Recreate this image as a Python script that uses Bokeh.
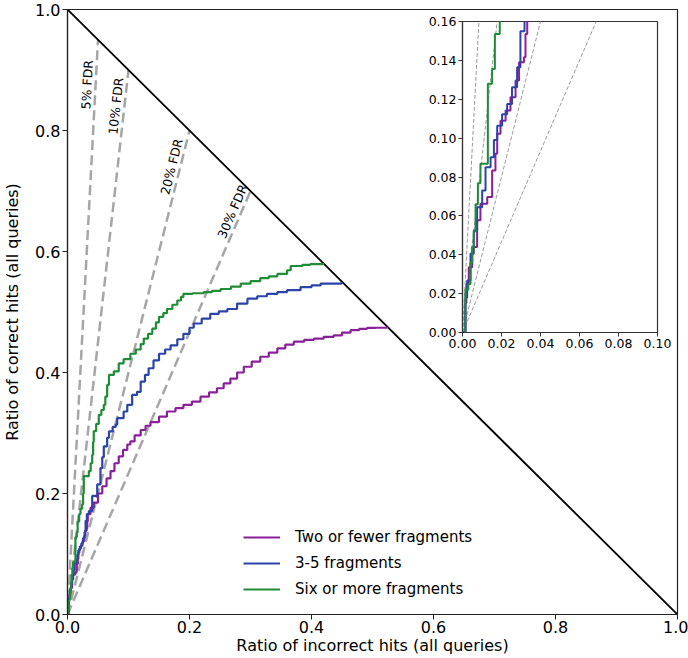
import math
from bokeh.plotting import figure
from bokeh.layouts import column
from bokeh.models import FixedTicker, NumeralTickFormatter, Range1d, ColumnDataSource
from bokeh.core.properties import value
from bokeh.embed import file_html
from bokeh.resources import INLINE

FONT = "DejaVu Sans"

# ---------------- data ----------------
series_names = ["Two or fewer fragments", "3-5 fragments", "Six or more fragments"]
series_colors = ["#8a1f9a", "#2a44a8", "#1f8c36"]

two_x = [0.0, 0.0015, 0.0020, 0.0032, 0.0050, 0.0075, 0.0092, 0.0127, 0.0152, 0.0169,
         0.0178, 0.0195, 0.0221, 0.0246, 0.0272, 0.0290, 0.0315, 0.0323, 0.0332,
         0.0377, 0.043, 0.050, 0.057, 0.064, 0.0705, 0.077, 0.084, 0.091, 0.098,
         0.103, 0.110, 0.120, 0.128, 0.136, 0.150, 0.163, 0.177, 0.190, 0.204,
         0.218, 0.232, 0.245, 0.256, 0.267, 0.278, 0.289, 0.302, 0.316, 0.330,
         0.344, 0.357, 0.371, 0.388, 0.404, 0.420, 0.4365, 0.450, 0.464, 0.478,
         0.491, 0.505, 0.524]
two_y = [0.0, 0.015, 0.025, 0.0336, 0.044, 0.0577, 0.0663, 0.0697, 0.0834, 0.0919,
         0.1022, 0.109, 0.1142, 0.121, 0.1296, 0.139, 0.1416, 0.1536, 0.166,
         0.1765, 0.185, 0.200, 0.212, 0.225, 0.237, 0.250, 0.2615, 0.272, 0.281,
         0.286, 0.296, 0.305, 0.312, 0.318, 0.327, 0.3355, 0.341, 0.3465, 0.352,
         0.360, 0.367, 0.374, 0.382, 0.390, 0.400, 0.4095, 0.418, 0.426, 0.433,
         0.440, 0.446, 0.451, 0.454, 0.456, 0.459, 0.4615, 0.466, 0.470, 0.472,
         0.4737, 0.474, 0.476]

mid_x = [0.0, 0.0015, 0.0024, 0.0041, 0.0058, 0.0075, 0.0101, 0.0118, 0.0144, 0.0161,
         0.0178, 0.0203, 0.0229, 0.0254, 0.0280, 0.0297, 0.0318,
         0.035, 0.0405, 0.0487, 0.054, 0.057, 0.0595, 0.065, 0.068, 0.074, 0.079,
         0.0815, 0.092, 0.098, 0.106, 0.114, 0.120, 0.127, 0.133, 0.141, 0.150,
         0.160, 0.169, 0.180, 0.190, 0.200, 0.207, 0.220, 0.234, 0.248, 0.262,
         0.278, 0.295, 0.311, 0.327, 0.344, 0.360, 0.382, 0.400, 0.415, 0.449]
mid_y = [0.0, 0.018, 0.0268, 0.0405, 0.0525, 0.0645, 0.0730, 0.085, 0.0902, 0.099,
         0.1064, 0.1123, 0.1176, 0.1262, 0.1365, 0.155, 0.166,
         0.171, 0.196, 0.215, 0.242, 0.260, 0.278, 0.292, 0.3026, 0.310, 0.314,
         0.3245, 0.3355, 0.3465, 0.363, 0.368, 0.385, 0.396, 0.407, 0.420, 0.431,
         0.438, 0.445, 0.455, 0.464, 0.474, 0.481, 0.489, 0.497, 0.501, 0.505,
         0.514, 0.522, 0.526, 0.530, 0.533, 0.536, 0.541, 0.544, 0.547, 0.549]

six_x = [0.0, 0.0015, 0.0030, 0.0041, 0.0050, 0.0058, 0.0067, 0.0079, 0.0092, 0.0130,
         0.0152, 0.0166, 0.0191,
         0.0213, 0.024, 0.0255, 0.0267, 0.035, 0.038, 0.0405, 0.042, 0.043, 0.047,
         0.0513, 0.0555, 0.0595, 0.062, 0.065, 0.068, 0.076, 0.084, 0.092, 0.103,
         0.112, 0.120, 0.125, 0.132, 0.139, 0.145, 0.150, 0.157, 0.163, 0.172,
         0.180, 0.186, 0.190, 0.205, 0.2235, 0.237, 0.251, 0.268, 0.284, 0.300,
         0.316, 0.330, 0.344, 0.360, 0.366, 0.385, 0.398, 0.419]
six_y = [0.0, 0.022, 0.025, 0.036, 0.044, 0.052, 0.066, 0.0768, 0.0868, 0.128,
         0.1356, 0.1536, 0.166,
         0.175, 0.182, 0.200, 0.2286, 0.237, 0.250, 0.264, 0.285, 0.303, 0.315,
         0.330, 0.338, 0.3465, 0.360, 0.3795, 0.396, 0.402, 0.415, 0.422, 0.431,
         0.438, 0.447, 0.456, 0.464, 0.4725, 0.483, 0.492, 0.498, 0.505, 0.512,
         0.519, 0.525, 0.530, 0.531, 0.533, 0.535, 0.538, 0.542, 0.547, 0.551,
         0.556, 0.559, 0.563, 0.569, 0.576, 0.578, 0.579, 0.581]

series_x = [two_x, mid_x, six_x]
series_y = [two_y, mid_y, six_y]

fdr_levels = [0.05, 0.10, 0.20, 0.30]
fdr_labels = ["5% FDR", "10% FDR", "20% FDR", "30% FDR"]
total = 1.0  # correct + incorrect can never exceed all queries

main_ticks = [0.0, 0.2, 0.4, 0.6, 0.8, 1.0]
inset_x_ticks = [0.0, 0.02, 0.04, 0.06, 0.08, 0.10]
inset_y_ticks = [0.0, 0.02, 0.04, 0.06, 0.08, 0.10, 0.12, 0.14, 0.16]

# ---------------- layout constants ----------------
W, H = 688, 658
BL, BR, BT, BB = 67, 11, 9, 44
FW, FH = W - BL - BR, H - BT - BB
label_t = [0.921, 0.932, 0.921, 0.944]   # where each FDR label sits along its line
label_gap = 8.5                          # px between a line and its label

# ---------------- main figure ----------------
p = figure(width=W, height=H, x_range=Range1d(0, 1), y_range=Range1d(0, 1),
           output_backend="svg", toolbar_location=None,
           min_border_left=BL, min_border_right=BR, min_border_top=BT, min_border_bottom=BB,
           x_axis_label="Ratio of incorrect hits (all queries)",
           y_axis_label="Ratio of correct hits (all queries)")
p.frame_align = False
p.xgrid.visible = False
p.ygrid.visible = False
p.outline_line_color = "#222222"
p.outline_line_width = 1.2
p.background_fill_color = "white"
p.border_fill_color = "white"

for ax in (p.xaxis[0], p.yaxis[0]):
    ax.ticker = FixedTicker(ticks=main_ticks)
    ax.formatter = NumeralTickFormatter(format="0.0")
    ax.major_tick_out = 5
    ax.major_tick_in = 0
    ax.minor_tick_out = 0
    ax.minor_tick_in = 0
    ax.axis_line_color = "#222222"
    ax.axis_line_width = 1.2
    ax.major_tick_line_color = "#222222"
    ax.major_label_text_font = FONT
    ax.major_label_text_font_size = "16px"
    ax.major_label_text_color = "black"
    ax.axis_label_text_font = FONT
    ax.axis_label_text_font_size = "16px"
    ax.axis_label_text_font_style = "normal"
    ax.axis_label_text_color = "black"
p.xaxis[0].major_label_standoff = 1
p.xaxis[0].axis_label_standoff = 0
p.yaxis[0].major_label_standoff = 2
p.yaxis[0].axis_label_standoff = 10

# FDR guide lines
fdr_src = ColumnDataSource(dict(
    x0=[0.0] * len(fdr_levels), y0=[0.0] * len(fdr_levels),
    x1=[f * total for f in fdr_levels], y1=[(1 - f) * total for f in fdr_levels]))
p.segment(x0="x0", y0="y0", x1="x1", y1="y1", source=fdr_src,
          line_color="#a6a6a6", line_width=2.5, line_dash="10 5")

# FDR labels, rotated along the lines
angles, lx, ly, xo, yo = [], [], [], [], []
for f, t in zip(fdr_levels, label_t):
    a = math.atan2((1 - f) * FH, f * FW)
    angles.append(a)
    lx.append(f * t)
    ly.append((1 - f) * t)
    xo.append(-label_gap * math.sin(a))
    yo.append(-label_gap * math.cos(a))
lab_src = ColumnDataSource(dict(x=lx, y=ly, text=fdr_labels, angle=angles, xo=xo, yo=yo))
p.text(x="x", y="y", text="text", angle="angle", x_offset="xo", y_offset="yo",
       source=lab_src, text_font=value(FONT), text_font_size=value("12.5px"),
       text_align="center", text_baseline="middle", text_color="black")

# diagonal limit line
p.line(x=[0, total], y=[total, 0], line_color="black", line_width=1.8)

for name, col, xs, ys in zip(series_names, series_colors, series_x, series_y):
    p.step(x=xs, y=ys, mode="after", line_color=col, line_width=2.2, legend_label=name)

lg = p.legend[0]
lg.location = (176, 15)
lg.padding = 0
lg.margin = 0
lg.spacing = 6
lg.glyph_width = 37
lg.glyph_height = 20
lg.label_standoff = 15
lg.label_text_font = FONT
lg.label_text_font_size = "15px"
lg.label_text_color = "black"
lg.border_line_alpha = 0
lg.background_fill_alpha = 0

# ---------------- inset figure ----------------
IL, IR, IT, IB = 45, 15, 8, 26
IFW, IFH = 195, 311
ins = figure(width=IL + IFW + IR, height=IT + IFH + IB,
             x_range=Range1d(0, 0.1), y_range=Range1d(0, 0.16),
             output_backend="svg", toolbar_location=None,
             min_border_left=IL, min_border_right=IR, min_border_top=IT, min_border_bottom=IB,
             styles={"position": "absolute", "left": f"{462 - IL}px", "top": f"{21 - IT}px"})
ins.frame_align = False
ins.xgrid.visible = False
ins.ygrid.visible = False
ins.outline_line_color = "#333333"
ins.outline_line_width = 1.2
ins.background_fill_color = "white"
ins.border_fill_color = None
ins.xaxis[0].ticker = FixedTicker(ticks=inset_x_ticks)
ins.yaxis[0].ticker = FixedTicker(ticks=inset_y_ticks)
for ax in (ins.xaxis[0], ins.yaxis[0]):
    ax.formatter = NumeralTickFormatter(format="0.00")
    ax.major_tick_out = 4
    ax.major_tick_in = 0
    ax.minor_tick_out = 0
    ax.minor_tick_in = 0
    ax.axis_line_color = "#333333"
    ax.axis_line_width = 1.2
    ax.major_tick_line_color = "#333333"
    ax.major_label_text_font = FONT
    ax.major_label_text_font_size = "12.5px"
    ax.major_label_text_color = "black"
    ax.major_label_standoff = 2

ins.segment(x0="x0", y0="y0", x1="x1", y1="y1", source=fdr_src,
            line_color="#999999", line_width=1, line_dash="4 2")
for name, col, xs, ys in zip(series_names, series_colors, series_x, series_y):
    ins.step(x=xs, y=ys, mode="after", line_color=col, line_width=2)

root = column(p, ins)
open("out.html", "w").write(file_html(root, INLINE))
